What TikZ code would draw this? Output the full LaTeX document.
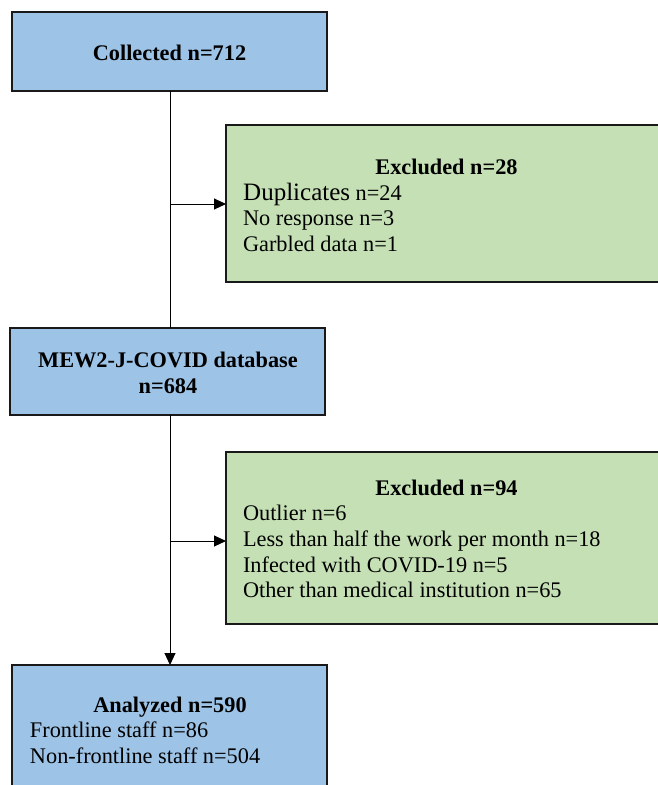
\documentclass[tikz,border=0pt]{standalone}
\usepackage{fontspec}
\setmainfont{Liberation Serif}
\usetikzlibrary{arrows.meta}
\definecolor{boxblue}{RGB}{157,195,230}
\definecolor{boxgreen}{RGB}{197,224,180}
\tikzset{
  boxbase/.style={draw=black!90, line width=1.8pt, inner sep=0pt, outer sep=0pt, rectangle},
  bluebox/.style={boxbase, fill=boxblue},
  greenbox/.style={boxbase, fill=boxgreen},
  txt/.style={inner sep=0pt, outer sep=0pt, font=\fontsize{22.3}{26}\selectfont},
  bigtxt/.style={inner sep=0pt, outer sep=0pt, font=\fontsize{25}{29}\selectfont},
  conn/.style={line width=1pt, black},
  arr/.style={conn, -{Triangle[length=12pt,width=11pt]}}
}
\begin{document}
\begin{tikzpicture}[x=1pt,y=-1pt]
\useasboundingbox (0,0) rectangle (657,785);
% boxes
\node[bluebox, minimum width=315pt, minimum height=79pt] (b1) at (169.5,51.5) {};
\node[greenbox, minimum width=439pt, minimum height=157pt] (b2) at (445.5,203.5) {};
\node[bluebox, minimum width=315pt, minimum height=87pt] (b3) at (167.5,371.5) {};
\node[greenbox, minimum width=439pt, minimum height=172pt] (b4) at (445.5,538) {};
\node[bluebox, minimum width=315pt, minimum height=145pt] (b5) at (169.5,737.5) {};
% texts
\node[txt, anchor=base] (t1) at (169.5,60) {\bfseries Collected n=712};
\node[txt, anchor=base] (t2h) at (446.5,174) {\bfseries Excluded n=28};
\node[anchor=base west, inner sep=0pt] (t2a) at (243,200) {{\fontsize{25}{29}\selectfont Duplicates}\fontsize{22.3}{26}\selectfont{} n=24};
\node[txt, anchor=base west] (t2b) at (243,225) {No response n=3};
\node[txt, anchor=base west] (t2c) at (243,251) {Garbled data n=1};
\node[txt, anchor=base] (t3a) at (168,367) {\bfseries MEW2-J-COVID database};
\node[txt, anchor=base] (t3b) at (168,393) {\bfseries n=684};
\node[txt, anchor=base] (t4h) at (446.5,495) {\bfseries Excluded n=94};
\node[txt, anchor=base west] (t4a) at (243,520) {Outlier n=6};
\node[txt, anchor=base west] (t4b) at (243,546) {Less than half the work per month n=18};
\node[txt, anchor=base west] (t4c) at (243,572) {Infected with COVID-19 n=5};
\node[txt, anchor=base west] (t4d) at (243,597) {Other than medical institution n=65};
\node[txt, anchor=base] (t5h) at (170,712) {\bfseries Analyzed n=590};
\node[txt, anchor=base west] (t5a) at (30,737) {Frontline staff n=86};
\node[txt, anchor=base west] (t5b) at (30,763) {Non-frontline staff n=504};
% connectors
\coordinate (v) at (170,0);
\coordinate (j1) at (170,204);
\coordinate (j2) at (170,541);
\draw[conn] (v |- b1.south) -- (v |- b3.north);
\draw[arr] (v |- b3.south) -- (v |- b5.north);
\draw[arr] (j1) -- (j1 -| b2.west);
\draw[arr] (j2) -- (j2 -| b4.west);
\end{tikzpicture}
\end{document}
